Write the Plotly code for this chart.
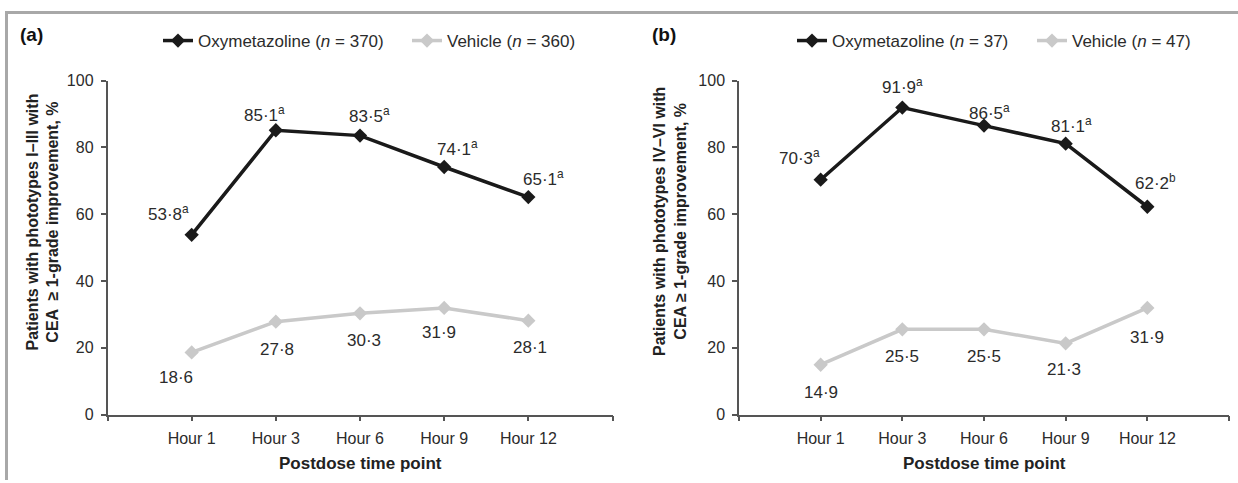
import plotly.graph_objects as go

# ---- data ----
hours = ["Hour 1", "Hour 3", "Hour 6", "Hour 9", "Hour 12"]
oxy_a = [53.8, 85.1, 83.5, 74.1, 65.1]
veh_a = [18.6, 27.8, 30.3, 31.9, 28.1]
oxy_b = [70.3, 91.9, 86.5, 81.1, 62.2]
veh_b = [14.9, 25.5, 25.5, 21.3, 31.9]
sig_a = ["a", "a", "a", "a", "a"]
sig_b = ["a", "a", "a", "a", "b"]
y_ticks = [0, 20, 40, 60, 80, 100]
n_a = (370, 360)
n_b = (37, 47)

# ---- label nudges (pixels; style only) ----
oxy_a_off = [(-23, 22), (-11, 16), (9, 21), (13, 19), (15, 19)]
veh_a_off = [(-16, -25), (1, -28), (4, -27), (-5, -25), (2, -27)]
oxy_b_off = [(-21, 23), (0, 22), (6, 14), (6, 19), (8, 25)]
veh_b_off = [(0, -28), (0, -27), (0, -27), (-2, -26), (0, -30)]

W, H = 1238, 483
FONT = "Liberation Sans, Arial, sans-serif"
BLACK = "#1a1a1a"
GREY = "#c9c9c9"
AXC = "#555555"
TXT = "#2b2b2b"

xs = list(range(len(hours)))
tickvals = [-1] + xs + [len(hours)]
ticktext = [""] + hours + [""]


def fmt(v):
    return f"{v:.1f}".replace(".", "\u00b7")


fig = go.Figure()

panels = [
    dict(xa="x", ya="y", xref="x", yref="y", leg="legend", oxy=oxy_a, veh=veh_a, sig=sig_a,
         n=n_a, ooff=oxy_a_off, voff=veh_a_off),
    dict(xa="x2", ya="y2", xref="x2", yref="y2", leg="legend2", oxy=oxy_b, veh=veh_b, sig=sig_b,
         n=n_b, ooff=oxy_b_off, voff=veh_b_off),
]

for p in panels:
    fig.add_trace(go.Scatter(
        x=xs, y=p["oxy"], xaxis=p["xa"], yaxis=p["ya"], legend=p["leg"],
        mode="lines+markers", name=f"Oxymetazoline (<i>n</i> = {p['n'][0]})",
        line=dict(color=BLACK, width=3.5),
        marker=dict(symbol="diamond", size=11, color=BLACK),
    ))
    fig.add_trace(go.Scatter(
        x=xs, y=p["veh"], xaxis=p["xa"], yaxis=p["ya"], legend=p["leg"],
        mode="lines+markers", name=f"Vehicle (<i>n</i> = {p['n'][1]})",
        line=dict(color=GREY, width=3.5),
        marker=dict(symbol="diamond", size=11, color=GREY),
    ))
    for i, (v, s) in enumerate(zip(p["oxy"], p["sig"])):
        fig.add_annotation(x=xs[i], y=v, xref=p["xref"], yref=p["yref"],
                           text=f"{fmt(v)}<sup>{s}</sup>", showarrow=False,
                           xanchor="center", yanchor="middle",
                           xshift=p["ooff"][i][0], yshift=p["ooff"][i][1],
                           font=dict(family=FONT, size=17, color=TXT))
    for i, v in enumerate(p["veh"]):
        fig.add_annotation(x=xs[i], y=v, xref=p["xref"], yref=p["yref"],
                           text=fmt(v), showarrow=False,
                           xanchor="center", yanchor="middle",
                           xshift=p["voff"][i][0], yshift=p["voff"][i][1],
                           font=dict(family=FONT, size=17, color=TXT))

ydom = [1 - 414.5 / H, 1 - 80.5 / H]
xdom1 = [107.5 / W, 612.5 / W]
xdom2 = [739 / W, 1229 / W]

xaxis_common = dict(range=[-1, len(hours)], tickmode="array", tickvals=tickvals, ticktext=ticktext,
                    showline=True, linecolor=AXC, linewidth=1.5, ticks="outside", ticklen=5,
                    tickcolor=AXC, tickwidth=1.5, showgrid=False, zeroline=False,
                    ticklabelstandoff=4, automargin=False,
                    tickfont=dict(family=FONT, size=16, color=TXT), fixedrange=True)
yaxis_common = dict(range=[0, 100], tickmode="array", tickvals=y_ticks,
                    showline=True, linecolor=AXC, linewidth=1.5, ticks="outside", ticklen=5,
                    tickcolor=AXC, tickwidth=1.5, showgrid=False, zeroline=False,
                    ticklabelstandoff=4, automargin=False,
                    tickfont=dict(family=FONT, size=16, color=TXT), fixedrange=True)

fig.update_layout(
    width=W, height=H,
    margin=dict(l=0, r=0, t=0, b=0, autoexpand=False),
    paper_bgcolor="white", plot_bgcolor="white",
    font=dict(family=FONT, color=TXT),
    xaxis=dict(domain=xdom1, anchor="y", **xaxis_common),
    yaxis=dict(domain=ydom, anchor="x", **yaxis_common),
    xaxis2=dict(domain=xdom2, anchor="y2", **xaxis_common),
    yaxis2=dict(domain=ydom, anchor="x2", **yaxis_common),
    legend=dict(orientation="h", x=158 / W, xanchor="left", y=1 - 41 / H, yanchor="middle",
                font=dict(family=FONT, size=17, color=TXT), entrywidth=204,
                bgcolor="rgba(0,0,0,0)"),
    legend2=dict(orientation="h", x=792 / W, xanchor="left", y=1 - 41 / H, yanchor="middle",
                 font=dict(family=FONT, size=17, color=TXT), entrywidth=195,
                 bgcolor="rgba(0,0,0,0)"),
    showlegend=True,
)

# panel labels
fig.add_annotation(x=18 / W, y=1 - 34 / H, xref="paper", yref="paper", text="<b>(a)</b>",
                   showarrow=False, xanchor="left", yanchor="middle",
                   font=dict(family=FONT, size=19, color="#111"))
fig.add_annotation(x=650 / W, y=1 - 34 / H, xref="paper", yref="paper", text="<b>(b)</b>",
                   showarrow=False, xanchor="left", yanchor="middle",
                   font=dict(family=FONT, size=19, color="#111"))

# y-axis titles
fig.add_annotation(x=42.5 / W, y=1 - 222 / H, xref="paper", yref="paper", textangle=-90,
                   xanchor="center", yanchor="middle",
                   text="<b>Patients with phototypes I\u2013III with<br>CEA  \u2265 1-grade improvement, %</b>",
                   showarrow=False, font=dict(family=FONT, size=16, color="#222"))
fig.add_annotation(x=670 / W, y=1 - 222 / H, xref="paper", yref="paper", textangle=-90,
                   xanchor="center", yanchor="middle",
                   text="<b>Patients with phototypes IV\u2013VI with<br>CEA \u2265 1-grade improvement, %</b>",
                   showarrow=False, font=dict(family=FONT, size=16, color="#222"))

# x-axis titles
for dom in (xdom1, xdom2):
    fig.add_annotation(x=(dom[0] + dom[1]) / 2, y=1 - 463 / H, xref="paper", yref="paper",
                       xanchor="center", yanchor="middle",
                       text="<b>Postdose time point</b>", showarrow=False,
                       font=dict(family=FONT, size=17, color="#222"))

# frame lines (top and left)
fig.add_shape(type="line", xref="paper", yref="paper", x0=5 / W, x1=1, y0=1 - 12.5 / H, y1=1 - 12.5 / H,
              line=dict(color="#a8a8a8", width=3))
fig.add_shape(type="line", xref="paper", yref="paper", x0=6.5 / W, x1=6.5 / W, y0=1 - 12.5 / H, y1=1 - 480 / H,
              line=dict(color="#a8a8a8", width=3))

fig.write_html("out.html", config=dict(displayModeBar=False),
               post_script="document.body.style.margin='0';document.body.style.overflow='hidden';")
